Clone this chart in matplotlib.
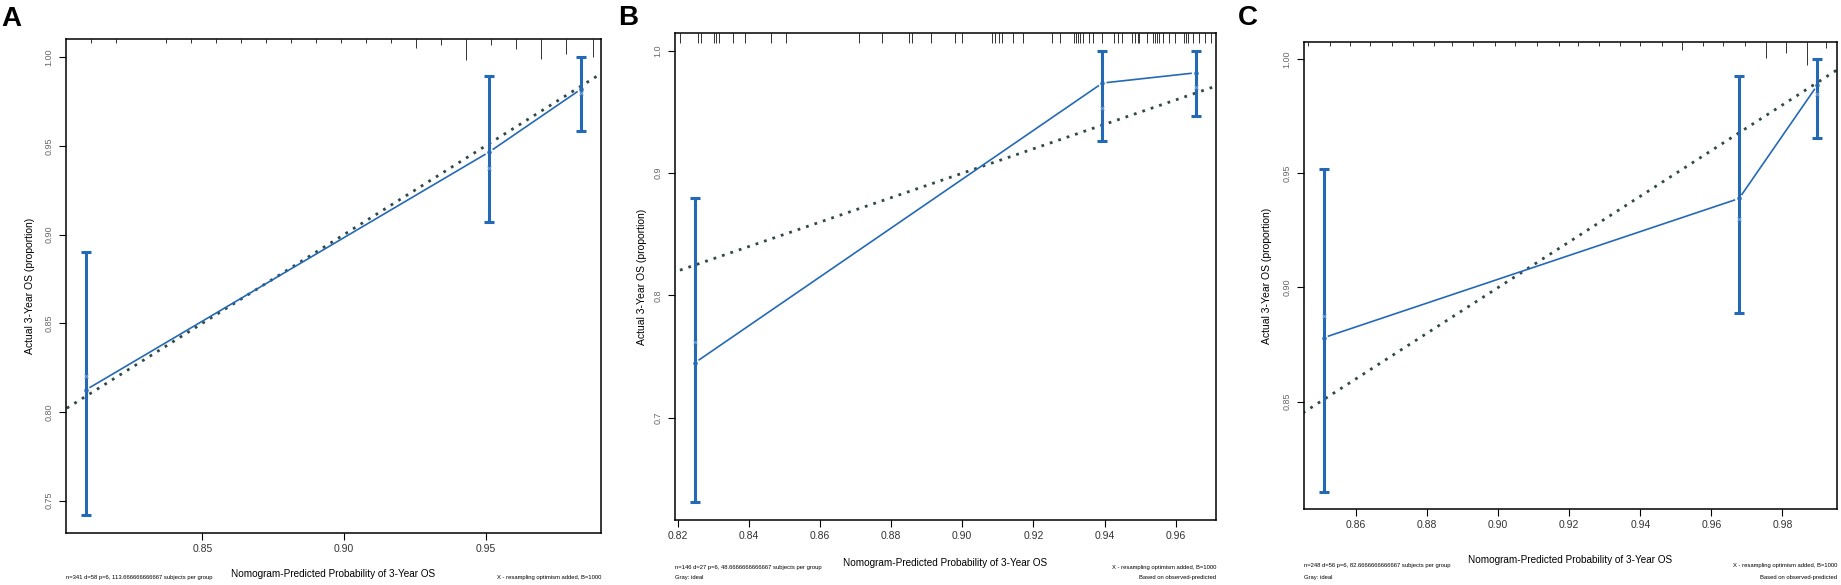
import matplotlib
matplotlib.use("Agg")
import matplotlib.pyplot as plt
import numpy as np
from matplotlib.transforms import blended_transform_factory

plt.rcParams['font.family'] = ['Liberation Sans', 'DejaVu Sans']

# ---------------- data ----------------
# Panel A
A_pred = [0.8088, 0.9513, 0.9838]
A_obs = [0.8124, 0.9466, 0.9821]
A_corr = [0.8203, 0.9376, 0.9800]
A_lo = [0.7420, 0.9072, 0.9585]
A_hi = [0.8899, 0.9893, 1.0000]
A_rug_x = [0.8108, 0.8196, 0.8373, 0.8461, 0.8549, 0.8637, 0.8726, 0.8814, 0.8902,
           0.8991, 0.9079, 0.9167, 0.9255, 0.9344, 0.9432, 0.9520, 0.9608, 0.9697,
           0.9785, 0.9878]
A_rug_h = [4, 4, 4, 4, 4, 4, 4, 4, 4, 4, 4, 4, 9, 6, 21, 6, 10, 20, 15, 18]
A_xticks = [0.85, 0.90, 0.95]
A_yticks = [0.75, 0.80, 0.85, 0.90, 0.95, 1.00]
A_note = "n=341 d=58 p=6, 113.666666666667 subjects per group"

# Panel B
B_pred = [0.8249, 0.9394, 0.9657]
B_obs = [0.7450, 0.9738, 0.9822]
B_corr = [0.7615, 0.9530, 0.9705]
B_lo = [0.6310, 0.9260, 0.9467]
B_hi = [0.8800, 1.0000, 1.0000]
B_rug_x = [0.8208, 0.8258, 0.8267, 0.8303, 0.8309, 0.8316, 0.8356, 0.8389, 0.8462,
           0.8506, 0.8711, 0.8774, 0.8851, 0.8859, 0.8912, 0.8981, 0.8998, 0.9084,
           0.9092, 0.9104, 0.9112, 0.9142, 0.9170, 0.9252, 0.9274, 0.9315, 0.9320,
           0.9326, 0.9331, 0.9339, 0.9357, 0.9368, 0.9393, 0.9426, 0.9437, 0.9448,
           0.9476, 0.9487, 0.9493, 0.9498, 0.9520, 0.9537, 0.9543, 0.9548, 0.9554,
           0.9565, 0.9582, 0.9598, 0.9624, 0.9628, 0.9634, 0.9648, 0.9665, 0.9682,
           0.9698]
B_rug_h = [10] * len(B_rug_x)
B_xticks = [0.82, 0.84, 0.86, 0.88, 0.90, 0.92, 0.94, 0.96]
B_yticks = [0.7, 0.8, 0.9, 1.0]
B_note = "n=146 d=27 p=6, 48.6666666666667 subjects per group"

# Panel C
C_pred = [0.8509, 0.9678, 0.9898]
C_obs = [0.8780, 0.9390, 0.9886]
C_corr = [0.8873, 0.9300, 0.9850]
C_lo = [0.8105, 0.8886, 0.9654]
C_hi = [0.9518, 0.9925, 1.0000]
C_rug_x = [0.8465, 0.8526, 0.8583, 0.8640, 0.8701, 0.8760, 0.8818, 0.8870, 0.8930,
           0.8991, 0.9047, 0.9109, 0.9170, 0.9226, 0.9284, 0.9343, 0.9399, 0.9460,
           0.9517, 0.9577, 0.9634, 0.9694, 0.9753, 0.9811, 0.9869, 0.9923]
C_rug_h = [4, 4, 4, 4, 4, 4, 4, 4, 4, 4, 4, 4, 4, 4, 4, 4, 4, 4, 8, 4, 4, 4, 16, 11, 23, 6]
C_xticks = [0.86, 0.88, 0.90, 0.92, 0.94, 0.96, 0.98]
C_yticks = [0.85, 0.90, 0.95, 1.00]
C_note = "n=248 d=56 p=6, 82.6666666666667 subjects per group"

tick_fmt = {"A": "{:.2f}", "B": "{:.1f}", "C": "{:.2f}"}
x_fmt = "{:.2f}"

# ---------------- layout (pixels) ----------------
W, H = 1841, 585
BLUE = '#2469b6'
XBLUE = '#7aa3d6'
IDEAL = '#2f4a48'

fig = plt.figure(figsize=(W / 100, H / 100), dpi=100)

panels = [
    dict(letter="A", box=(66, 39, 601, 533), letter_xy=(1, 26), xlab_y=574, notes_y=(578,),
         pred=A_pred, obs=A_obs, corr=A_corr, lo=A_lo, hi=A_hi, rx=A_rug_x, rh=A_rug_h,
         xt=A_xticks, yt=A_yticks, note=A_note, ylab_x=30, two_lines=False),
    dict(letter="B", box=(675, 33, 1216, 520), letter_xy=(618, 25), xlab_y=563, notes_y=(568, 577),
         pred=B_pred, obs=B_obs, corr=B_corr, lo=B_lo, hi=B_hi, rx=B_rug_x, rh=B_rug_h,
         xt=B_xticks, yt=B_yticks, note=B_note, ylab_x=642, two_lines=True),
    dict(letter="C", box=(1304, 42, 1837, 509), letter_xy=(1238, 25), xlab_y=560, notes_y=(566, 577),
         pred=C_pred, obs=C_obs, corr=C_corr, lo=C_lo, hi=C_hi, rx=C_rug_x, rh=C_rug_h,
         xt=C_xticks, yt=C_yticks, note=C_note, ylab_x=1267, two_lines=True),
]


def fx(x):
    return x / W


def fy(y):
    return 1 - y / H


for p in panels:
    l, t, r, b = p["box"]
    ax = fig.add_axes([l / W, 1 - b / H, (r - l) / W, (b - t) / H])
    pred = np.array(p["pred"]); obs = np.array(p["obs"]); corr = np.array(p["corr"])
    lo = np.array(p["lo"]); hi = np.array(p["hi"])

    # R-style 4% extended limits
    xr = (pred.min(), pred.max()); yr = (lo.min(), hi.max())
    dx = 0.04 * (xr[1] - xr[0]); dy = 0.04 * (yr[1] - yr[0])
    xlim = (xr[0] - dx, xr[1] + dx); ylim = (yr[0] - dy, yr[1] + dy)
    ax.set_xlim(*xlim); ax.set_ylim(*ylim)

    # ideal line
    lo_i = min(xlim[0], ylim[0]); hi_i = max(xlim[1], ylim[1])
    ax.plot([lo_i, hi_i], [lo_i, hi_i], linestyle=(0, (1, 2.2)), color=IDEAL, lw=2.0, zorder=2)

    # calibration line with gaps around points (type="b")
    pts = ax.transData.transform(np.column_stack([pred, obs]))
    inv = ax.transData.inverted()
    gap = 5.0
    for i in range(len(pts) - 1):
        p0, p1 = pts[i], pts[i + 1]
        d = p1 - p0
        L = np.hypot(*d)
        s0 = p0 + d / L * gap
        s1 = p1 - d / L * gap
        seg = inv.transform(np.vstack([s0, s1]))
        ax.plot(seg[:, 0], seg[:, 1], color=BLUE, lw=1.2, zorder=3)
    ax.plot(pred, obs, 'o', ms=2.2, color=BLUE, zorder=4)

    # error bars
    ax.vlines(pred, lo, hi, color=BLUE, lw=2.2, zorder=3)
    ax.plot(pred, hi, marker='_', ls='none', ms=7, mew=2.2, color=BLUE, zorder=3)
    ax.plot(pred, lo, marker='_', ls='none', ms=7, mew=2.2, color=BLUE, zorder=3)

    # bias-corrected X marks
    ax.plot(pred, corr, 'x', ms=3.5, mew=0.7, color=XBLUE, zorder=5)

    # rug spikes at the top
    tr = blended_transform_factory(ax.transData, ax.transAxes)
    hpx = b - t
    rx = np.array(p["rx"]); rh = np.array(p["rh"], dtype=float)
    ax.vlines(rx, 1 - rh / hpx, 1.0, transform=tr, color='#333333', lw=0.7, zorder=2)

    # ticks
    ax.set_xticks(p["xt"])
    ax.set_xticklabels([x_fmt.format(v) for v in p["xt"]])
    ax.set_yticks(p["yt"])
    ax.set_yticklabels([tick_fmt[p["letter"]].format(v) for v in p["yt"]],
                       rotation=90, va='center')
    ax.tick_params(axis='x', direction='out', length=5, width=0.8, labelsize=7.5,
                   pad=3, labelcolor='#333333')
    ax.tick_params(axis='y', direction='out', length=5, width=0.8, labelsize=6.5,
                   pad=4, labelcolor='#666666')
    for s in ax.spines.values():
        s.set_linewidth(1.1)
        s.set_color('black')

    cx = (l + r) / 2
    cy = (t + b) / 2
    fig.text(fx(p["ylab_x"]), fy(cy), "Actual 3-Year OS (proportion)", rotation=90,
             ha='center', va='center', fontsize=7.5)
    fig.text(fx(cx), fy(p["xlab_y"]), "Nomogram-Predicted Probability of 3-Year OS",
             ha='center', va='center', fontsize=7.2)
    fig.text(fx(p["letter_xy"][0]), fy(p["letter_xy"][1]), p["letter"], fontsize=20,
             fontweight='bold', ha='left', va='baseline')

    ny = p["notes_y"]
    fig.text(fx(l), fy(ny[0]), p["note"], ha='left', va='center', fontsize=4.2)
    fig.text(fx(r), fy(ny[0]), "X - resampling optimism added, B=1000", ha='right',
             va='center', fontsize=4.2)
    if p["two_lines"]:
        fig.text(fx(l), fy(ny[1]), "Gray: ideal", ha='left', va='center', fontsize=4.2)
        fig.text(fx(r), fy(ny[1]), "Based on observed-predicted", ha='right',
                 va='center', fontsize=4.2)

fig.savefig("out.png", dpi=100)
